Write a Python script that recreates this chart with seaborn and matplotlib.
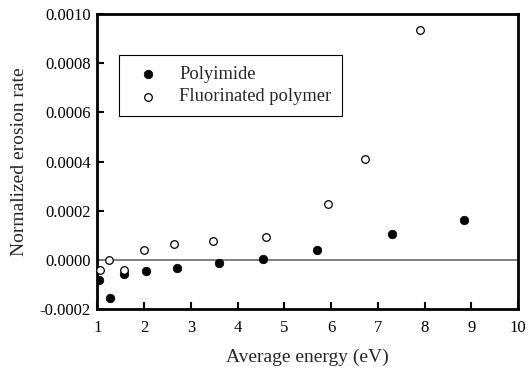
import matplotlib
matplotlib.use("Agg")
import matplotlib.pyplot as plt
import seaborn as sns
import pandas as pd

polyimide_energy = [1.04, 1.27, 1.57, 2.04, 2.71, 3.60, 4.55, 5.69, 7.30, 8.85]
polyimide_rate = [-0.000082, -0.000155, -0.000057, -0.000044, -0.000033, -0.000012, 0.0000024, 0.000041, 0.000104, 0.000164]
fluoro_energy = [1.05, 1.25, 1.57, 2.00, 2.63, 3.47, 4.61, 5.94, 6.73, 7.91]
fluoro_rate = [-0.000041, 0.0, -0.000041, 0.000041, 0.000065, 0.000078, 0.000094, 0.000226, 0.000411, 0.000935]
series_names = ["Polyimide", "Fluorinated polymer"]
x_ticks = [1, 2, 3, 4, 5, 6, 7, 8, 9, 10]
y_ticks = [-0.0002, 0.0, 0.0002, 0.0004, 0.0006, 0.0008, 0.0010]

sns.set_style("ticks")
plt.rcParams['font.family'] = ['Liberation Serif', 'DejaVu Serif']
plt.rcParams['axes.unicode_minus'] = False

df = pd.concat([
    pd.DataFrame({"energy": polyimide_energy, "rate": polyimide_rate, "series": series_names[0]}),
    pd.DataFrame({"energy": fluoro_energy, "rate": fluoro_rate, "series": series_names[1]}),
])

fig = plt.figure(figsize=(5.31, 3.67), dpi=100)
ax = fig.add_axes([0.1836, 0.1572, 0.7919, 0.8047])

ax.axhline(0, color="#7f7f7f", lw=1.4, zorder=1)

d1 = df[df.series == series_names[0]]
d2 = df[df.series == series_names[1]]
sns.scatterplot(data=d1, x="energy", y="rate", ax=ax, marker="o", s=38,
                color="black", edgecolor="black", linewidth=0.5, label=series_names[0], zorder=3)
sns.scatterplot(data=d2, x="energy", y="rate", ax=ax, marker="o", s=30,
                facecolor="white", edgecolor="black", linewidth=0.9, label=series_names[1], zorder=3)

ax.set_xlim(1, 10)
ax.set_ylim(-0.0002, 0.0010)
ax.set_xticks(x_ticks)
ax.set_yticks(y_ticks)
ax.set_yticklabels([f"{v:.4f}" for v in y_ticks])
ax.set_xticklabels([str(v) for v in x_ticks])
ax.tick_params(direction="in", length=5, width=1.5, labelsize=12, colors="black",
               top=False, right=False, pad=5)
ax.tick_params(axis="x", pad=8)
for s in ax.spines.values():
    s.set_visible(True)
    s.set_linewidth(2)
    s.set_color("black")

ax.set_xlabel("Average energy (eV)", fontsize=14, labelpad=9)
ax.set_ylabel("Normalized erosion rate", fontsize=14, labelpad=8)

leg = ax.legend(loc="upper left", bbox_to_anchor=(0.051, 0.862), fontsize=13.3,
                frameon=True, fancybox=False, edgecolor="black", framealpha=1,
                borderpad=0.6, handletextpad=0.65, labelspacing=0.3, borderaxespad=0)
leg.get_frame().set_linewidth(0.8)

fig.savefig("out.png", dpi=100)
